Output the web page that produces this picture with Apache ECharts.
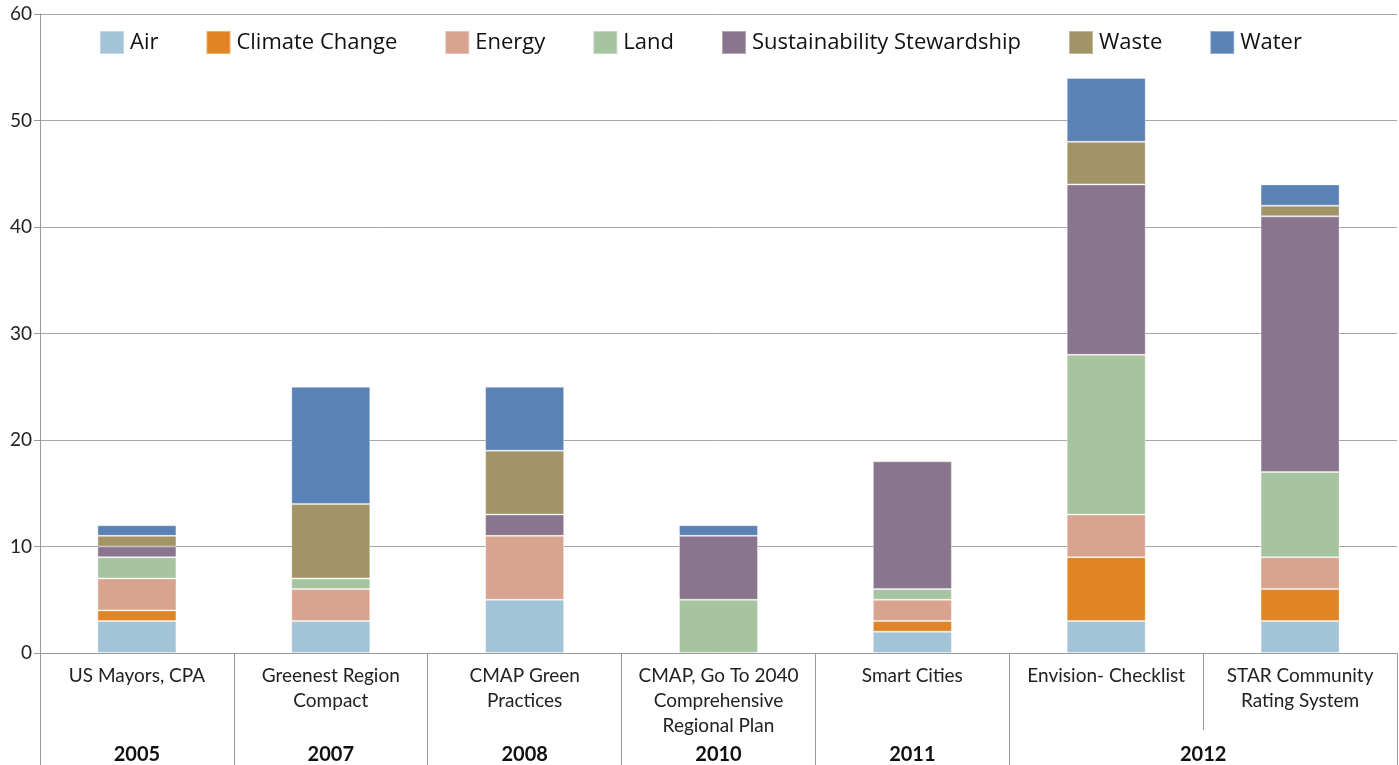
<!DOCTYPE html>
<html>
<head>
<meta charset="utf-8">
<script src="https://cdn.jsdelivr.net/npm/echarts@6/dist/echarts.min.js"></script>
<style>
html,body{margin:0;padding:0;background:#fff;}
#chart{width:1399px;height:765px;}
</style>
</head>
<body>
<div id="chart"></div>
<script>
const categories = ['US Mayors, CPA', 'Greenest Region\nCompact', 'CMAP Green\nPractices', 'CMAP, Go To 2040\nComprehensive\nRegional Plan', 'Smart Cities', 'Envision- Checklist', 'STAR Community\nRating System'];
const years = ['2005', '2007', '2008', '2010', '2011', '2012', '2012'];
const seriesNames = ['Air', 'Climate Change', 'Energy', 'Land', 'Sustainability Stewardship', 'Waste', 'Water'];
const air          = [3, 3, 5, 0, 2, 3, 3];
const climateChange= [1, 0, 0, 0, 1, 6, 3];
const energy       = [3, 3, 6, 0, 2, 4, 3];
const land         = [2, 1, 0, 5, 1, 15, 8];
const stewardship  = [1, 0, 2, 6, 12, 16, 24];
const waste        = [1, 7, 6, 0, 0, 4, 1];
const water        = [1, 11, 6, 1, 0, 6, 2];
const yTicks = [0, 10, 20, 30, 40, 50, 60];

const seriesData = [air, climateChange, energy, land, stewardship, waste, water];
const colors = ['#a3c3d7', '#e08424', '#d9a48f', '#a7c4a0', '#8a758e', '#a39467', '#5b82b5'];

const chart = echarts.init(document.getElementById('chart'));
const option = {
  animation: false,
  color: colors,
  textStyle: { fontFamily: 'Lato, sans-serif' },
  legend: {
    left: 99, top: 30, padding: 0,
    itemWidth: 24, itemHeight: 23, itemGap: 47,
    icon: 'rect',
    textStyle: { fontFamily: '"Open Sans", sans-serif', fontSize: 22, color: '#111', padding: [0, 0, 0, 1] },
    data: seriesNames
  },
  grid: { left: 40, right: 2, top: 14, bottom: 112, containLabel: false },
  xAxis: [
    {
      type: 'category', data: categories, position: 'bottom',
      axisLine: { lineStyle: { color: '#9a9a9a', width: 1 } },
      axisTick: { show: true, length: 77, lineStyle: { color: '#9a9a9a' } },
      axisLabel: { interval: 0, margin: 10, fontSize: 19, lineHeight: 25, color: '#222' }
    },
    {
      type: 'category', data: years, position: 'bottom',
      axisLine: { show: false },
      axisTick: { show: true, length: 112, interval: function (i) { return i !== 6; }, lineStyle: { color: '#9a9a9a' } },
      axisLabel: {
        interval: function (i) { return i <= 5; },
        margin: 92,
        formatter: function (v, i) { return i === 5 ? '{s|' + v + '}' : '{b|' + v + '}'; },
        rich: {
          b: { fontSize: 20, fontWeight: 'bold', color: '#111' },
          s: { fontSize: 20, fontWeight: 'bold', color: '#111', padding: [0, 0, 0, 194] }
        }
      }
    }
  ],
  yAxis: {
    type: 'value', min: 0, max: 60, interval: 10,
    axisLine: { show: true, lineStyle: { color: '#9a9a9a' } },
    axisTick: { show: true, length: 6, lineStyle: { color: '#9a9a9a' } },
    axisLabel: { fontSize: 19, color: '#222', margin: 8,
      formatter: function (v) { return yTicks.indexOf(v) >= 0 ? String(v) : ''; } },
    splitLine: { lineStyle: { color: '#a6a6a6', width: 1 } }
  },
  series: seriesNames.map(function (name, k) {
    return {
      name: name, type: 'bar', stack: 'total', barWidth: 79,
      itemStyle: { borderColor: 'rgba(255,255,255,0.35)', borderWidth: 1 },
      data: seriesData[k].map(function (v) { return v === 0 ? null : v; })
    };
  })
};
chart.setOption(option);
</script>
</body>
</html>
